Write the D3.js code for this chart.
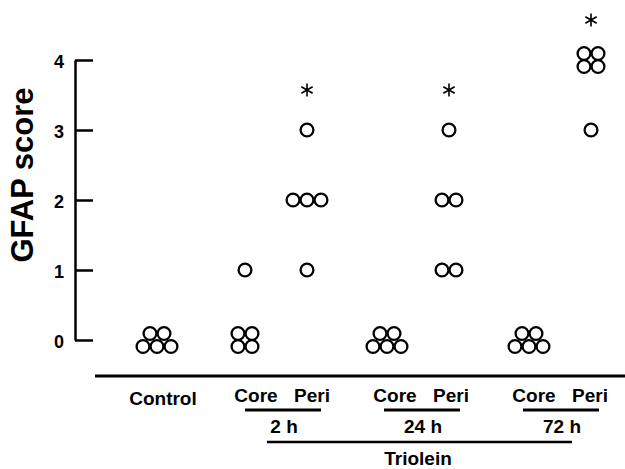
<!DOCTYPE html>
<html>
<head>
<meta charset="utf-8">
<script src="https://cdn.jsdelivr.net/npm/d3@7"></script>
<style>
  body { margin: 0; background: #fff; }
  text { font-family: "Liberation Sans", Arial, sans-serif; font-weight: bold; fill: #000; }
</style>
</head>
<body>
<div id="chart"></div>
<script>
// GFAP scores per animal
var timeLabels = ["2 h", "24 h", "72 h"];
var siteLabels = ["Core", "Peri"];
var columns = [
    { name: "Control", time: null, site: null },
    { name: "Core 2 h", time: "2 h", site: "Core" },
    { name: "Peri 2 h", time: "2 h", site: "Peri" },
    { name: "Core 24 h", time: "24 h", site: "Core" },
    { name: "Peri 24 h", time: "24 h", site: "Peri" },
    { name: "Core 72 h", time: "72 h", site: "Core" },
    { name: "Peri 72 h", time: "72 h", site: "Peri" }
];
var scores = [
    [0, 0, 0, 0, 0],
    [0, 0, 0, 0, 1],
    [1, 2, 2, 2, 3],
    [0, 0, 0, 0, 0],
    [1, 1, 2, 2, 3],
    [0, 0, 0, 0, 0],
    [3, 4, 4, 4, 4]
];
var significant = [false, false, true, false, true, false, true];
var yTicks = [0, 1, 2, 3, 4];
var groupLabel = "Triolein";

var width = 625, height = 469;
var margin = { top: 60, bottom: 129, axisX: 75 };

var svg = d3.select("#chart").append("svg")
    .attr("width", width)
    .attr("height", height);

var y = d3.scaleLinear().domain([0, 4]).range([height - margin.bottom, margin.top]);

// dot columns
var controlX = 157;
var xTime = d3.scalePoint().domain(timeLabels).range([276, 560]);
var xSite = d3.scalePoint().domain(siteLabels).range([-31, 31]);
// label columns (text sits a little to the right of the dots)
var controlLabelX = 163;
var xTimeLabel = d3.scalePoint().domain(timeLabels).range([284, 562]);
var xSiteLabel = d3.scalePoint().domain(siteLabels).range([-28, 28]);

function colX(c) {
    return c.time == null ? controlX : xTime(c.time) + xSite(c.site);
}

// y axis, ticks pointing into the plot
svg.append("g")
    .attr("class", "yAxis")
    .attr("transform", "translate(" + margin.axisX + ",0)")
    .call(d3.axisLeft(y).tickValues(yTicks).tickFormat(d3.format("d"))
        .tickSizeInner(-18).tickSizeOuter(0).tickPadding(11))
    .call(function (g) {
        g.select(".domain").attr("stroke-width", 2.5);
        g.selectAll(".tick line").attr("stroke-width", 2.5);
        g.selectAll(".tick text").style("font-size", "18px").attr("fill", "#000").attr("dy", "0.42em");
    });

svg.append("text")
    .attr("transform", "translate(33," + 175 + ") rotate(-90)")
    .attr("text-anchor", "middle")
    .style("font-size", "31px")
    .text("GFAP score");

// spread tied values into little clusters
var dx = 14, dy = 6.5;
function cluster(n) {
    if (n == 1) return [[0, 0]];
    if (n == 2) return [[-dx / 2, 0], [dx / 2, 0]];
    if (n == 3) return [[-dx, 0], [0, 0], [dx, 0]];
    if (n == 4) return [[-dx / 2, -dy], [dx / 2, -dy], [-dx / 2, dy], [dx / 2, dy]];
    return [[-dx / 2, -dy], [dx / 2, -dy], [-dx, dy], [0, dy], [dx, dy]];
}

var dots = [];
columns.forEach(function (c, i) {
    var counts = d3.rollup(scores[i], function (v) { return v.length; }, function (d) { return d; });
    counts.forEach(function (n, val) {
        cluster(n).forEach(function (o) {
            dots.push({ x: colX(c) + o[0], y: y(val) + o[1] });
        });
    });
});

svg.append("g").selectAll("circle")
    .data(dots)
    .join("circle")
    .attr("cx", function (d) { return d.x; })
    .attr("cy", function (d) { return d.y; })
    .attr("r", 6.4)
    .attr("fill", "#fff")
    .attr("stroke", "#000")
    .attr("stroke-width", 2.3);

// asterisks above significant columns
var starData = columns.map(function (c, i) {
    return { x: colX(c), y: y(d3.max(scores[i])) - 40, show: significant[i] };
}).filter(function (d) { return d.show; });

svg.append("g").selectAll("path")
    .data(starData)
    .join("path")
    .attr("transform", function (d) { return "translate(" + d.x + "," + d.y + ")"; })
    .attr("d", d3.symbol(d3.symbolAsterisk, 120))
    .attr("fill", "none")
    .attr("stroke", "#000")
    .attr("stroke-width", 1.6);

// baseline under the plot
svg.append("line")
    .attr("x1", 95).attr("x2", width)
    .attr("y1", 376).attr("y2", 376)
    .attr("stroke", "#000").attr("stroke-width", 3);

svg.append("text")
    .attr("x", controlLabelX).attr("y", 405)
    .attr("text-anchor", "middle")
    .style("font-size", "19px")
    .text("Control");

var timeG = svg.append("g").selectAll("g")
    .data(timeLabels)
    .join("g")
    .attr("transform", function (d) { return "translate(" + xTimeLabel(d) + ",0)"; });

timeG.selectAll("text.site")
    .data(siteLabels)
    .join("text")
    .attr("class", "site")
    .attr("x", function (d) { return xSiteLabel(d); })
    .attr("y", 402)
    .attr("text-anchor", "middle")
    .style("font-size", "19px")
    .text(function (d) { return d; });

timeG.append("line")
    .attr("x1", -39).attr("x2", 37)
    .attr("y1", 410).attr("y2", 410)
    .attr("stroke", "#000").attr("stroke-width", 3);

timeG.append("text")
    .attr("x", 0).attr("y", 433)
    .attr("text-anchor", "middle")
    .style("font-size", "19px")
    .text(function (d) { return d; });

svg.append("line")
    .attr("x1", 267).attr("x2", 572)
    .attr("y1", 442).attr("y2", 442)
    .attr("stroke", "#000").attr("stroke-width", 2.5);

svg.append("text")
    .attr("x", 418).attr("y", 465)
    .attr("text-anchor", "middle")
    .style("font-size", "19px")
    .text(groupLabel);
</script>
</body>
</html>
